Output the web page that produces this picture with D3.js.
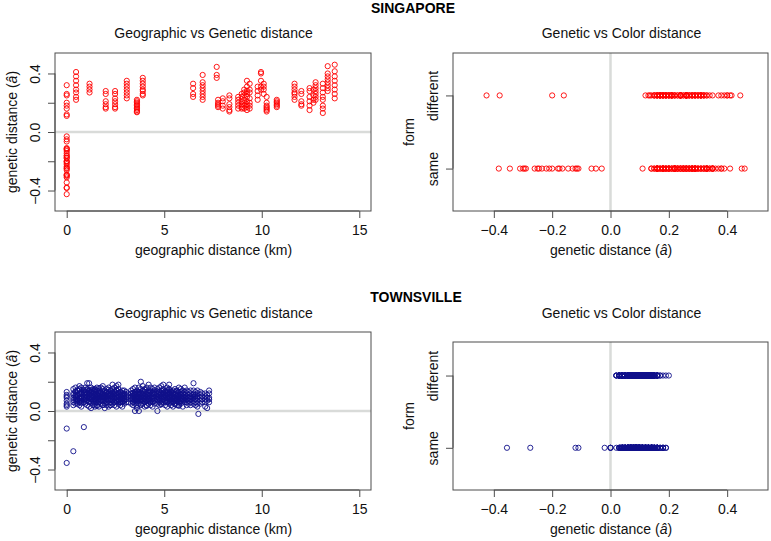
<!DOCTYPE html>
<html>
<head>
<meta charset="utf-8">
<script src="https://cdn.jsdelivr.net/npm/d3@7"></script>
<style>
  body { margin: 0; background: #fff; }
  svg { display: block; font-family: "Liberation Sans", Arial, Helvetica, sans-serif; }
</style>
</head>
<body>
<svg id="chart" width="771" height="541"></svg>
<script>
// ---------------- DATA ----------------
// Singapore: clusters of pairs by geographic distance (km); genetic distance split by form (same / different)
const sgKm = [0, 0.48, 1.17, 2.0, 2.48, 3.08, 3.6, 3.9, 6.48, 6.97, 7.69, 7.76, 8.0, 8.34, 8.79, 8.97,
  9.1, 9.24, 9.38, 9.79, 9.96, 10.1, 10.25, 10.77, 11.68, 12.03, 12.45, 12.65, 12.76, 13.13, 13.38, 13.74];
const sgSame = [
  [0.32,0.25,0.18,0.11,-0.03,-0.05,-0.065,-0.11,-0.115,-0.12,-0.13,-0.145,-0.165,-0.175,-0.18,-0.20,-0.21,-0.22,-0.235,-0.245,-0.25,-0.26,-0.29,-0.295,-0.30,-0.31,-0.345,-0.383],
  [0.38,0.32,0.27,0.22], [0.33,0.29], [0.28,0.21,0.17], [0.28,0.23,0.19,0.16], [0.35,0.31,0.27,0.23],
  [0.22,0.20,0.18,0.16,0.14], [0.35,0.31,0.28,0.25], [0.33,0.26], [0.34,0.30,0.26,0.22], [0.39,0.37],
  [0.22,0.19,0.17], [0.23,0.18], [0.25,0.19,0.15], [0.24,0.20,0.16], [0.26,0.21,0.17], [0.29,0.25,0.20,0.16],
  [0.35,0.28,0.24,0.19,0.15], [0.33,0.27,0.20,0.16], [0.31,0.25], [0.41,0.35,0.29], [0.33,0.29],
  [0.24,0.18,0.16,0.14], [0.22,0.20,0.18], [0.33,0.29,0.26,0.22], [0.28,0.21,0.18], [0.30,0.24,0.18],
  [0.29,0.22], [0.34,0.30,0.26,0.22], [0.33,0.27,0.22,0.16], [0.45,0.36,0.32,0.28], [0.46,0.38,0.35,0.29,0.23]
];
const sgDiff = [
  [0.26,0.20,0.16,0.12,-0.16,-0.20,-0.38,-0.425],
  [0.41,0.35,0.29,0.24], [0.31,0.27], [0.26,0.19,0.16], [0.26,0.21,0.17], [0.33,0.29,0.25],
  [0.21,0.19,0.17,0.15,0.135], [0.37,0.33,0.29,0.26], [0.30,0.24], [0.39,0.32,0.28,0.24], [0.445],
  [0.20,0.18], [0.21,0.16], [0.23,0.17,0.14], [0.22,0.18], [0.24,0.19,0.16], [0.27,0.22,0.18],
  [0.31,0.26,0.21,0.17], [0.29,0.23,0.18], [0.28,0.22], [0.40,0.31], [0.31,0.26],
  [0.20,0.17,0.15], [0.21,0.19,0.17], [0.31,0.27,0.24], [0.26,0.19], [0.28,0.21,0.15],
  [0.25,0.20], [0.32,0.28,0.24], [0.30,0.24,0.18,0.13], [0.40,0.38,0.34,0.30], [0.415,0.32,0.26]
];

// Townsville: pairs by geographic distance (km); genetic distance split by form
const tvKm = [0, 0.34, 0.45, 0.55, 0.65, 0.75, 0.88, 0.95, 1.05, 1.15, 1.25, 1.35, 1.45, 1.55, 1.65, 1.75,
  1.85, 1.95, 2.05, 2.15, 2.25, 2.35, 2.45, 2.55, 2.65, 2.75, 2.85, 2.95, 3.05, 3.15, 3.3, 3.4, 3.5, 3.6,
  3.7, 3.8, 3.9, 4.0, 4.1, 4.2, 4.3, 4.4, 4.5, 4.65, 4.75, 4.85, 4.95, 5.05, 5.15, 5.25, 5.35, 5.45, 5.55,
  5.65, 5.75, 5.85, 5.95, 6.05, 6.15, 6.25, 6.35, 6.5, 6.6, 6.7, 6.75, 6.85, 6.95, 7.1, 7.2, 7.3];
const tvSame = [
  [0.13,0.10,0.07,0.04,-0.12,-0.355], [0.15,0.09,0.06,0.11,-0.275], [0.16,0.11,0.07,0.095,0.135], [0.14,0.08,0.05,0.105,0.065],
  [0.17,0.12,0.06,0.085,0.145], [0.13,0.10,0.07,0.115,0.055], [0.14,0.09,-0.11,0.075,0.12], [0.16,0.11,0.05,0.085,0.13], [0.19,0.12,0.07,0.095,0.145],
  [0.14,0.09,0.03,0.115,0.065], [0.16,0.10,0.06,0.125,0.08], [0.12,0.07,0.04,0.095,0.14], [0.15,0.11,0.05,0.085,0.07], [0.14,0.09,0.06,0.115,0.035],
  [0.12,0.08,0.03,0.105,0.155], [0.16,0.10,0.05,0.075,0.125], [0.17,0.12,0.07,0.095,0.04], [0.13,0.09,0.05,0.11,0.07], [0.15,0.10,0.06,0.125,0.085],
  [0.12,0.08,0.03,0.105,0.145], [0.14,0.11,0.06,0.085,0.04], [0.18,0.10,0.05,0.125,0.075], [0.13,0.09,0.04,0.115,0.065], [0.17,0.12,0.07,0.095,0.145],
  [0.15,0.10,0.05,0.075,0.125], [0.13,0.08,0.04,0.105,0.06], [0.14,0.10,0.06,0.085,0.12], [0.12,0.09,0.05,0.07,0.105], [0.13,0.08,0.095], [0.10,0.06],
  [0.12,0.08,0.10], [0.15,0.10,0.06,0.085,0.125], [0.13,0.09,0.00,0.075,0.11], [0.14,0.10,0.07,0.02,0.12,0.085], [0.16,0.11,0.00,0.085,0.13],
  [0.15,0.12,0.07,0.095,0.045], [0.14,0.09,0.05,0.115,0.075], [0.13,0.10,0.06,0.085,0.145], [0.16,0.11,0.07,0.095,0.035], [0.18,0.12,0.05,0.08,0.105],
  [0.13,0.09,0.04,0.11,0.07], [0.15,0.10,0.06,0.125,0.085], [0.14,0.09,0.05,0.115,0.07], [0.12,0.08,0.00,0.095,0.135], [0.16,0.11,0.06,0.085,0.13],
  [0.14,0.10,0.07,0.115,0.045], [0.18,0.12,0.08,0.095,0.14], [0.13,0.09,0.04,0.11,0.065], [0.16,0.11,0.06,0.085,0.13], [0.18,0.12,0.07,0.095,0.145],
  [0.13,0.08,0.04,0.105,0.065], [0.14,0.10,0.06,0.085,0.12], [0.15,0.11,0.07,0.09,0.045], [0.12,0.08,0.04,0.105,0.135], [0.16,0.11,0.06,0.085,0.035],
  [0.13,0.09,0.05,0.11,0.07], [0.14,0.10,0.07,0.085,0.12], [0.16,0.11,0.06,0.09], [0.12,0.08,0.04,0.10], [0.13,0.09,0.05,0.07],
  [0.14,0.10,0.06,0.085], [0.19,0.11,0.07,0.095], [0.13,0.08,0.04,0.10], [0.12,0.09,0.05], [-0.02], [0.11,0.07],
  [0.12,0.08], [0.10,0.06,0.03], [0.11,0.07], [0.14,0.09,0.06]
];
const tvDiff = [
  [0.11,0.09,0.05,0.03], [0.12,0.04,0.075], [0.13,0.05,0.085,0.105], [0.12,0.10,0.075,0.14], [0.15,0.09,0.04,0.115,0.07], [0.16,0.08,0.03,0.125,0.095],
  [0.12,0.06,0.10,0.145], [0.13,0.08,0.065,0.105], [0.15,0.10,0.04,0.125,0.075], [0.19,0.11,0.06,0.085,0.135], [0.13,0.08,0.02,0.105,0.145], [0.15,0.10,0.065,0.125],
  [0.13,0.08,0.03,0.105,0.145], [0.16,0.11,0.04,0.075,0.095], [0.14,0.10,0.06,0.085,0.125], [0.13,0.07,0.095,0.115], [0.15,0.09,0.04,0.065,0.11], [0.11,0.07,0.02,0.095,0.135],
  [0.13,0.08,0.04,0.105,0.065], [0.16,0.10,0.05,0.075,0.12], [0.12,0.08,0.04,0.10,0.135], [0.15,0.07,0.095,0.115], [0.16,0.11,0.06,0.085,0.135], [0.14,0.09,0.03,0.11,0.065],
  [0.18,0.12,0.08,0.10,0.065], [0.11,0.06,0.085,0.13], [0.12,0.08,0.03,0.105,0.065], [0.14,0.07,0.09,0.115], [0.11,0.06], [0.12],
  [0.14,0.05,0.09], [0.12,0.08,0.04,0.105,0.065], [0.16,0.11,0.05,0.085,0.13], [0.12,0.08,0.04,0.10,0.065], [0.13,0.09,0.05,0.115,0.07], [0.20,0.10,0.04,0.075,0.125],
  [0.17,0.11,0.07,0.09,0.135], [0.15,0.08,0.03,0.105,0.065], [0.13,0.09,0.04,0.115,0.075], [0.14,0.10,0.07,0.085,0.125], [0.16,0.11,0.06,0.09,0.135],
  [0.12,0.08,0.03,0.10,0.065], [0.16,0.11,0.07,0.09,0.13], [0.15,0.10,0.05,0.075,0.12], [0.13,0.09,0.04,0.11,0.07], [0.17,0.12,0.05,0.085,0.10],
  [0.15,0.10,0.06,0.08,0.125], [0.11,0.07,0.09,0.135], [0.14,0.09,0.03,0.115,0.065], [0.15,0.10,0.05,0.08,0.125], [0.11,0.06,0.09,0.135], [0.12,0.08,0.03,0.10,0.065],
  [0.13,0.09,0.05,0.115,0.075], [0.14,0.10,0.07,0.085], [0.13,0.08,0.04,0.10,0.065], [0.15,0.11,0.09,0.07], [0.12,0.08,0.03,0.10], [0.13,0.09,0.075,0.11],
  [0.14,0.10,0.06,0.08], [0.11,0.07,0.09], [0.12,0.08,0.04,0.10], [0.14,0.09,0.05,0.115], [0.11,0.06,0.085], [0.14,0.07,0.03,0.10],
  [], [0.13,0.09,0.05], [0.10,0.06], [0.12,0.08], [0.09,0.02], [0.12,0.08]
];

// Axis ticks and labels
const kmTicks = [0, 5, 10, 15];
const genTicks = [-0.4, -0.2, 0.0, 0.2, 0.4];
const genTickLabelsLeft = {"-0.4": "\u22120.4", "0": "0.0", "0.4": "0.4"};
const genTickLabelsRight = ["\u22120.4", "\u22120.2", "0.0", "0.2", "0.4"];
const formLevels = ["same", "different"];
const formTicks = [1, 2];

const sites = ["SINGAPORE", "TOWNSVILLE"];
const panelTitles = ["Geographic vs Genetic distance", "Genetic vs Color distance"];

// ---------------- DRAW ----------------
const svg = d3.select("#chart");
const FONT = 14;
const boxColor = "#4d4d4d";
const zeroColor = "#d9dbd9";

function flatten(kms, same, diff) {
  const pts = [];
  kms.forEach((k, i) => {
    same[i].forEach(g => pts.push({km: k, gen: g, form: 1}));
    diff[i].forEach(g => pts.push({km: k, gen: g, form: 2}));
  });
  return pts;
}

const sgPts = flatten(sgKm, sgSame, sgDiff);
const tvPts = flatten(tvKm, tvSame, tvDiff);

function genLabel(sel) {
  sel.text("genetic distance (");
  sel.append("tspan").attr("font-style", "italic").text("\u00e2");
  sel.append("tspan").text(")");
}

function leftPanel(pts, color, top, bottom, titleY) {
  const x = d3.scaleLinear().domain([-0.6, 15.6]).range([55, 371]);
  const y = d3.scaleLinear().domain([-0.54, 0.54]).range([bottom, top]);
  const g = svg.append("g");
  g.append("text").attr("x", 213.5).attr("y", titleY).attr("text-anchor", "middle")
    .attr("font-size", FONT).attr("fill", "#111").text(panelTitles[0]);
  g.append("line").attr("x1", x.range()[0]).attr("x2", x.range()[1])
    .attr("y1", y(0)).attr("y2", y(0)).attr("stroke", zeroColor).attr("stroke-width", 2.5);
  g.selectAll("circle.p").data(pts).enter().append("circle")
    .attr("cx", d => x(d.km)).attr("cy", d => y(d.gen)).attr("r", 2.6)
    .attr("fill", "none").attr("stroke", color).attr("stroke-width", 0.9);
  g.append("rect").attr("x", 55).attr("y", top).attr("width", 316).attr("height", bottom - top)
    .attr("fill", "none").attr("stroke", boxColor).attr("stroke-width", 1);
  const xa = g.append("g").attr("transform", `translate(0,${bottom})`)
    .call(d3.axisBottom(x).tickValues(kmTicks).tickSize(7).tickPadding(4).tickFormat(d3.format("d")));
  xa.select(".domain").attr("d", `M${x(0)},0H${x(15)}`).attr("stroke", boxColor);
  xa.selectAll(".tick line").attr("stroke", boxColor);
  xa.selectAll(".tick text").attr("font-size", FONT).attr("fill", "#111")
    .attr("font-family", "Liberation Sans, Arial, sans-serif").attr("dy", "0.9em");
  g.append("text").attr("x", 213.5).attr("y", bottom + 44).attr("text-anchor", "middle")
    .attr("font-size", FONT).attr("fill", "#111").text("geographic distance (km)");
  const ya = g.append("g").attr("transform", "translate(55,0)")
    .call(d3.axisLeft(y).tickValues(genTicks).tickSize(7).tickPadding(0)
      .tickFormat(d => genTickLabelsLeft[String(d)] || ""));
  ya.select(".domain").attr("d", `M0,${y(-0.4)}V${y(0.4)}`).attr("stroke", boxColor);
  ya.selectAll(".tick line").attr("stroke", boxColor);
  ya.selectAll(".tick text").attr("font-size", FONT).attr("fill", "#111")
    .attr("font-family", "Liberation Sans, Arial, sans-serif")
    .attr("x", 0).attr("dy", 0).attr("text-anchor", "middle")
    .attr("transform", "translate(-15,0) rotate(-90)");
  const yl = g.append("text").attr("text-anchor", "middle").attr("font-size", FONT).attr("fill", "#111")
    .attr("transform", `translate(17,${(top + bottom) / 2}) rotate(-90)`);
  genLabel(yl);
}

function rightPanel(pts, color, top, bottom, yDomain, titleY) {
  const x = d3.scaleLinear().domain([-0.54, 0.54]).range([453, 768]);
  const y = d3.scaleLinear().domain(yDomain).range([bottom, top]);
  const g = svg.append("g");
  g.append("text").attr("x", 621.5).attr("y", titleY).attr("text-anchor", "middle")
    .attr("font-size", FONT).attr("fill", "#111").text(panelTitles[1]);
  g.append("line").attr("x1", x(0)).attr("x2", x(0)).attr("y1", top).attr("y2", bottom)
    .attr("stroke", zeroColor).attr("stroke-width", 2.5);
  g.selectAll("circle.p").data(pts).enter().append("circle")
    .attr("cx", d => x(d.gen)).attr("cy", d => y(d.form)).attr("r", 2.6)
    .attr("fill", "none").attr("stroke", color).attr("stroke-width", 0.9);
  g.append("rect").attr("x", 453).attr("y", top).attr("width", 315).attr("height", bottom - top)
    .attr("fill", "none").attr("stroke", boxColor).attr("stroke-width", 1);
  const xa = g.append("g").attr("transform", `translate(0,${bottom})`)
    .call(d3.axisBottom(x).tickValues(genTicks).tickSize(7).tickPadding(4)
      .tickFormat((d, i) => genTickLabelsRight[i]));
  xa.select(".domain").attr("d", `M${x(-0.4)},0H${x(0.4)}`).attr("stroke", boxColor);
  xa.selectAll(".tick line").attr("stroke", boxColor);
  xa.selectAll(".tick text").attr("font-size", FONT).attr("fill", "#111")
    .attr("font-family", "Liberation Sans, Arial, sans-serif").attr("dy", "0.9em");
  const xl = g.append("text").attr("x", 611).attr("y", bottom + 44).attr("text-anchor", "middle")
    .attr("font-size", FONT).attr("fill", "#111");
  genLabel(xl);
  const ya = g.append("g").attr("transform", "translate(453,0)")
    .call(d3.axisLeft(y).tickValues(formTicks).tickSize(7).tickPadding(0)
      .tickFormat(d => formLevels[d - 1]));
  ya.select(".domain").attr("d", `M0,${y(1)}V${y(2)}`).attr("stroke", boxColor);
  ya.selectAll(".tick line").attr("stroke", boxColor);
  ya.selectAll(".tick text").attr("font-size", FONT).attr("fill", "#111")
    .attr("font-family", "Liberation Sans, Arial, sans-serif")
    .attr("x", 0).attr("dy", 0).attr("text-anchor", "middle")
    .attr("transform", "translate(-15,0) rotate(-90)");
  g.append("text").attr("text-anchor", "middle").attr("font-size", FONT).attr("fill", "#111")
    .attr("transform", `translate(414,${(top + bottom) / 2}) rotate(-90)`).text("form");
}

svg.append("text").attr("x", 413).attr("y", 13).attr("text-anchor", "middle")
  .attr("font-size", 14).attr("font-weight", "bold").attr("fill", "#000").text(sites[0]);
svg.append("text").attr("x", 416).attr("y", 302).attr("text-anchor", "middle")
  .attr("font-size", 14).attr("font-weight", "bold").attr("fill", "#000").text(sites[1]);

const red = "#ff0000";
const navy = "#10108a";
leftPanel(sgPts, red, 53, 211, 38);
rightPanel(sgPts, red, 53, 211, [0.42, 2.58], 38);
leftPanel(tvPts, navy, 332, 490, 318);
rightPanel(tvPts, navy, 342, 490, [0.416, 2.464], 318);
</script>
</body>
</html>
